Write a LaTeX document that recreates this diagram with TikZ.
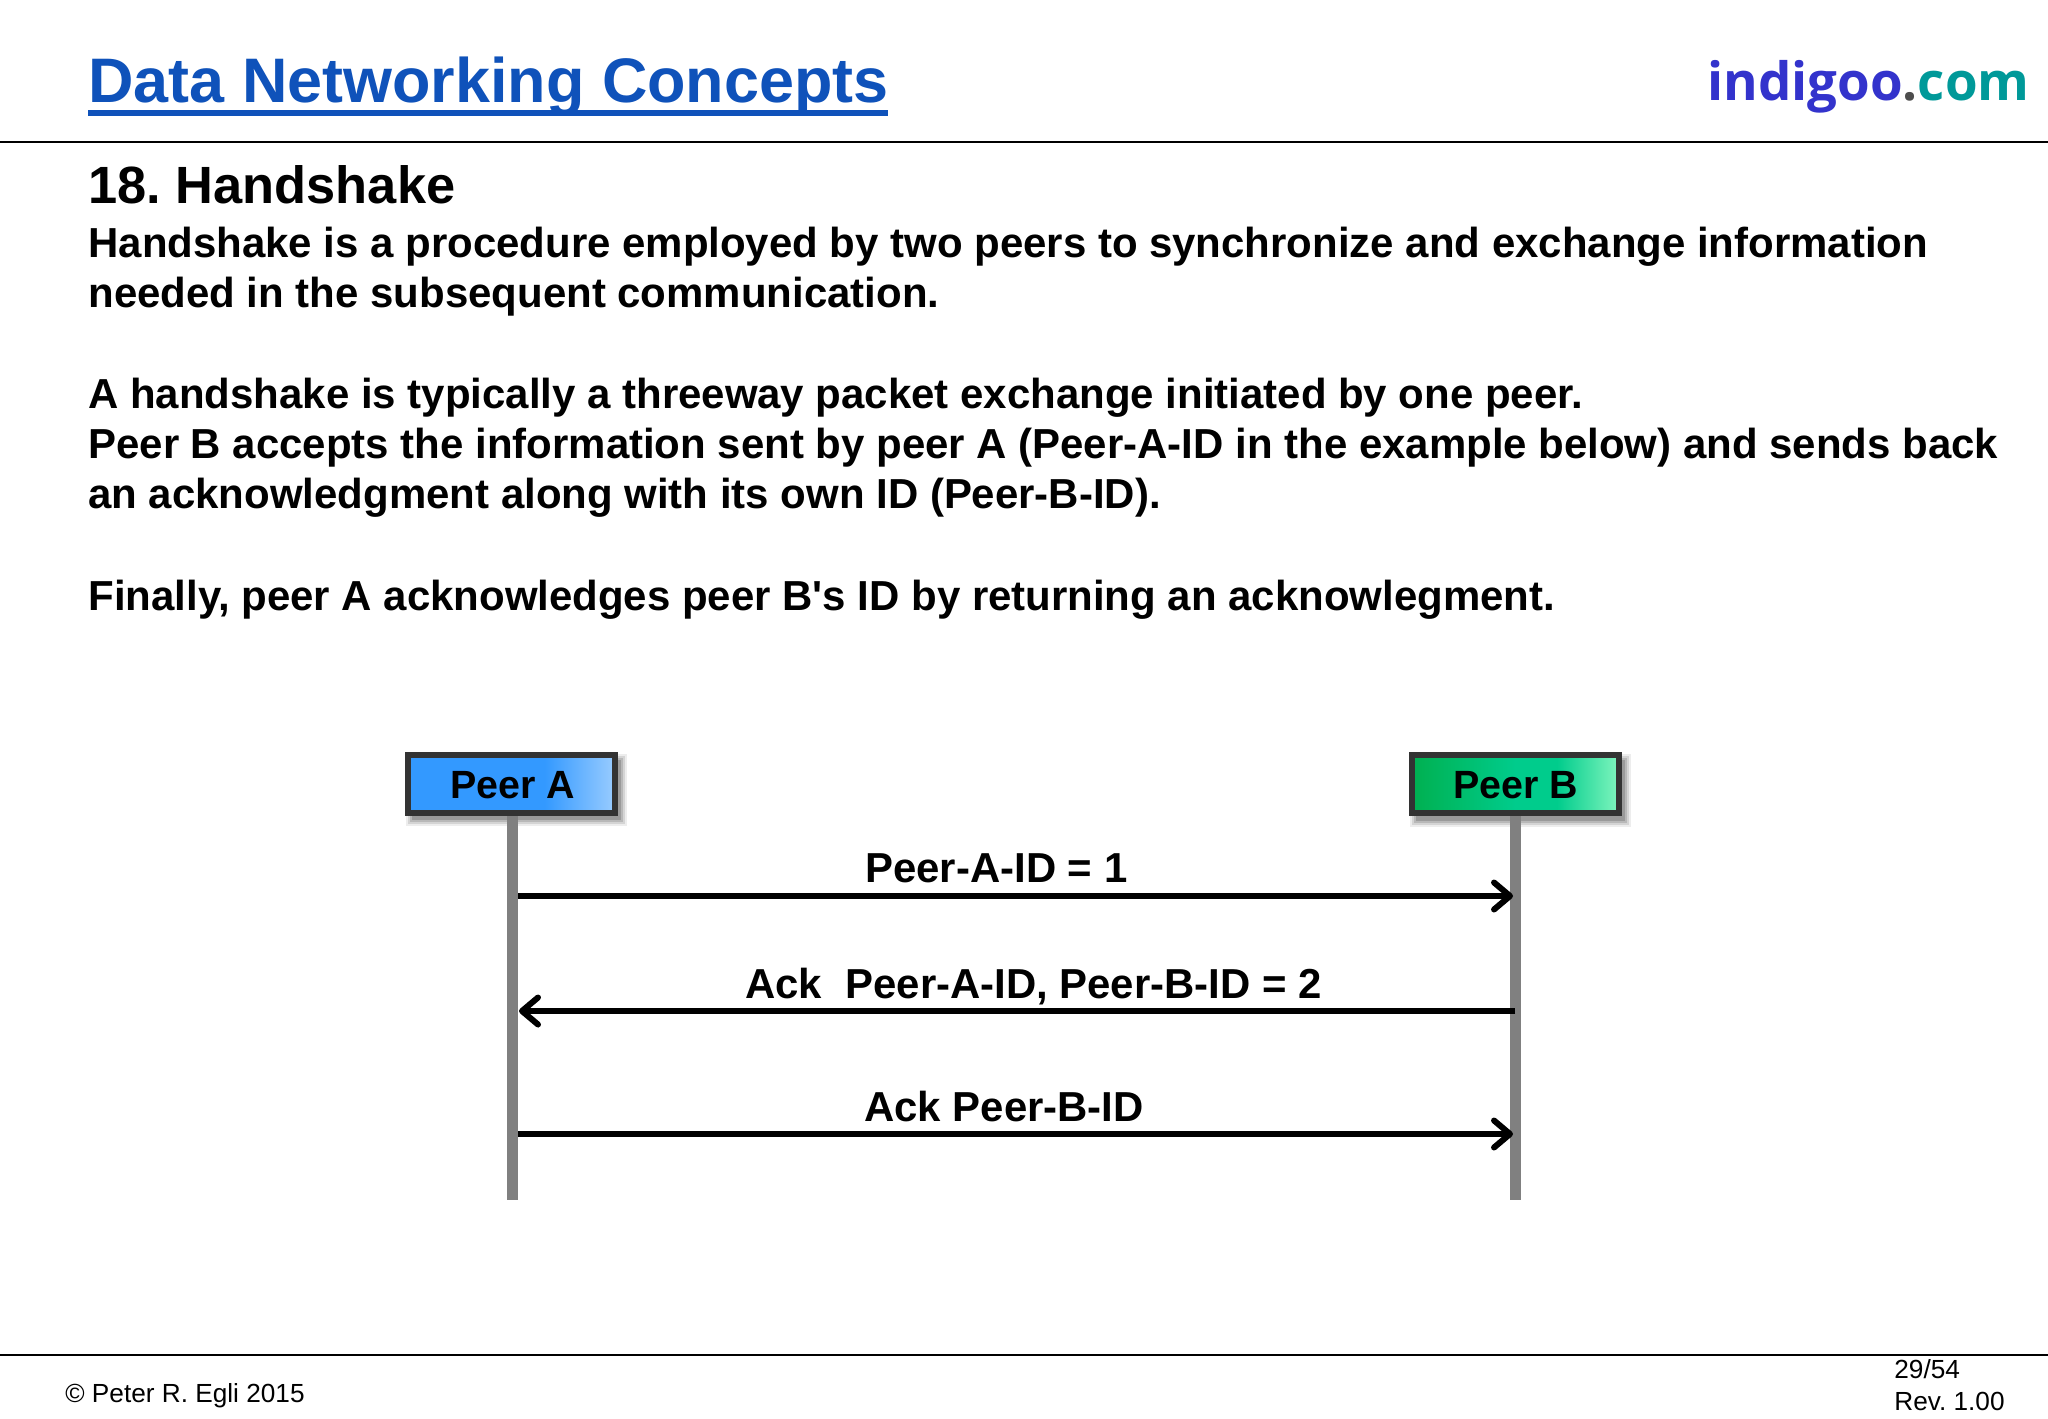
\documentclass[tikz,border=0pt]{standalone}
\usepackage{fontspec}
\setmainfont{Liberation Sans}[Ligatures=TeXOff]
\newfontfamily\logofont{Open Sans}[Ligatures=TeXOff]
\frenchspacing
\usetikzlibrary{arrows.meta,calc}
\definecolor{pa1}{HTML}{3399FF}
\definecolor{pa2}{HTML}{99CCFF}
\definecolor{pb1}{HTML}{00B050}
\definecolor{pb3}{HTML}{00CC8C}
\definecolor{pb2}{HTML}{80F5BE}
\definecolor{titleblue}{HTML}{0F52BA}
\definecolor{indigoo}{HTML}{3333CC}
\definecolor{comteal}{HTML}{009999}
\definecolor{dotgrey}{HTML}{4D4D4D}
\definecolor{boxedge}{HTML}{333333}
\definecolor{lifegrey}{HTML}{808080}
\pgfdeclarehorizontalshading{peerashade}{100bp}{color(0bp)=(pa1);color(25bp)=(pa1);color(50bp)=(pa1);color(58bp)=(pa1);color(75bp)=(pa2);color(100bp)=(pa2)}
\pgfdeclarehorizontalshading{peerbshade}{100bp}{color(0bp)=(pb1);color(25bp)=(pb1);color(50bp)=(pb3);color(60bp)=(pb3);color(75bp)=(pb2);color(100bp)=(pb2)}
\tikzset{
  bodyline/.style={anchor=base west,inner sep=0pt,font=\fontsize{20.98pt}{25pt}\selectfont\bfseries,text=black},
  smalltext/.style={anchor=base west,inner sep=0pt,font=\fontsize{13.1pt}{16pt}\selectfont,text=black},
  msglabel/.style={anchor=base west,inner sep=0pt,font=\fontsize{20.95pt}{25pt}\selectfont\bfseries,text=black},
  peerbox/.style={draw=boxedge,line width=3pt,minimum width=103.5pt,minimum height=29pt,inner sep=0pt,font=\fontsize{19.7pt}{24pt}\selectfont\bfseries,text=black},
  lifeline/.style={draw=lifegrey,line width=5.5pt,line cap=butt},
  msg/.style={draw=black,line width=3pt,-{Straight Barb[length=8pt,width=13.5pt,line width=3pt,round]}},
  rule/.style={draw=black,line width=1pt},
}
\begin{document}
\begin{tikzpicture}[x=0.5pt,y=-0.5pt]
\useasboundingbox[fill=white] (0,0) rectangle (2048,1418);
% rules
\coordinate (r1a) at (0,141.5); \coordinate (r1b) at (2048,141.5);
\coordinate (r2a) at (0,1355); \coordinate (r2b) at (2048,1355);
\draw[rule] (r1a) -- (r1b);
\draw[rule] (r2a) -- (r2b);
% header
\node[anchor=base west,inner sep=0pt,font=\fontsize{31.45pt}{38pt}\selectfont\bfseries,text=titleblue] (title) at (88,103) {Data Networking Concepts};
\fill[titleblue] (88,110) rectangle (888,116);
\node[anchor=base east,inner sep=0pt,font=\fontsize{26.4pt}{34pt}\selectfont\logofont\bfseries] (logo) at (2030,101) {\textcolor{indigoo}{indigoo}\textcolor{dotgrey}{.}\textcolor{comteal}{com}};
% text
\node[anchor=base west,inner sep=0pt,font=\fontsize{26.2pt}{30pt}\selectfont\bfseries] (head) at (88,203) {18. Handshake};
\node[bodyline] (l1) at (88,257) {Handshake is a procedure employed by two peers to synchronize and exchange information};
\node[bodyline] (l2) at (88,307) {needed in the subsequent communication.};
\node[bodyline] (l3) at (88,408) {A handshake is typically a threeway packet exchange initiated by one peer.};
\node[bodyline] (l4) at (88,458) {Peer B accepts the information sent by peer A (Peer-A-ID in the example below) and sends back};
\node[bodyline] (l5) at (88,508) {an acknowledgment along with its own ID (Peer-B-ID).};
\node[bodyline] (l6) at (88,610) {Finally, peer A acknowledges peer B's ID by returning an acknowlegment.};
% shadows
\foreach \o/\a in {7/0.07,5/0.10,3/0.13,1/0.16}{
  \fill[black,opacity=\a] (413-\o,761-\o) rectangle (620+\o,819+\o);
  \fill[black,opacity=\a] (1417-\o,761-\o) rectangle (1624+\o,820+\o);
}
% lifelines
\coordinate (atop) at (512.5,780);
\coordinate (btop) at (1515,780);
\coordinate (aend) at (512.5,1200);
\coordinate (bend) at (1515,1200);
\draw[lifeline] (atop) -- (aend);
\draw[lifeline] (btop) -- (bend);
\node[peerbox,shading=peerashade,shading angle=0] (pa) at (511.5,783.5) {\hspace{1pt}\raisebox{-7.25pt}[0pt][0pt]{Peer A}};
\node[peerbox,shading=peerbshade,shading angle=0] (pb) at (1515.5,783.5) {\raisebox{-7.25pt}[0pt][0pt]{Peer B}};
% message anchors
\coordinate (a1) at (518,896); \coordinate (b1) at (1513,896);
\coordinate (a2) at (519,1011); \coordinate (b2) at (1515,1011);
\coordinate (a3) at (518,1134); \coordinate (b3) at (1513,1134);
\draw[msg] (a1) -- (b1);
\draw[msg] (b2) -- (a2);
\draw[msg] (a3) -- (b3);
\node[msglabel] (m1) at (865,882.5) {Peer-A-ID = 1};
\node[msglabel] (m2) at (745,998.5) {Ack\ \ Peer-A-ID, Peer-B-ID = 2};
\node[msglabel] (m3) at (864,1121.5) {Ack Peer-B-ID};
% footer
\node[smalltext] (copy) at (65,1402.5) {© Peter R. Egli 2015};
\node[smalltext] (pg) at (1894,1378.5) {29/54};
\node[smalltext] (rev) at (1894,1410.5) {Rev. 1.00};
\end{tikzpicture}
\end{document}
